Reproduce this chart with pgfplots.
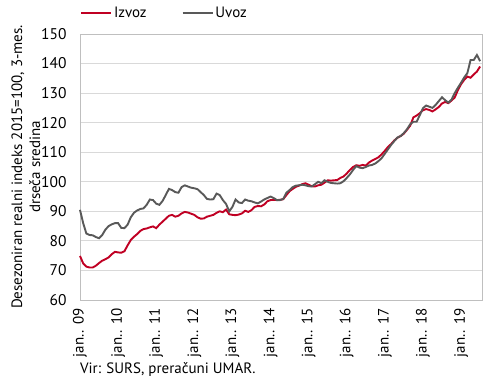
\documentclass[border=0pt]{standalone}
\usepackage{pgfplots}
\pgfplotsset{compat=1.18}
\usepackage{fontspec}
\setmainfont{PT Sans}
\definecolor{izred}{RGB}{192,0,35}
\definecolor{uvgray}{RGB}{89,89,89}
\definecolor{gridc}{RGB}{217,217,217}
\definecolor{framec}{RGB}{191,191,191}
\begin{document}
\begin{tikzpicture}
\path[use as bounding box] (-80bp,-81bp) rectangle (410bp,300bp);
\begin{axis}[
  at={(0,0)}, anchor=south west,
  scale only axis, width=402bp, height=266bp,
  xmin=0, xmax=126.6, ymin=60, ymax=150,
  ytick={60,70,...,150},
  xtick={0,12,...,120},
  xticklabels={jan.. 09,jan.. 10,jan.. 11,jan.. 12,jan.. 13,jan.. 14,jan.. 15,jan.. 16,jan.. 17,jan.. 18,jan.. 19},
  x tick label style={rotate=90, anchor=east, font=\fontsize{15bp}{17bp}\selectfont},
  y tick label style={font=\fontsize{15.5bp}{17bp}\selectfont},
  xticklabel shift=5bp,
  yticklabel shift=10bp,
  /pgf/number format/assume math mode=true,
  major tick length=0pt,
  ymajorgrids, grid style={gridc, line width=0.9bp},
  axis line style={framec, line width=0.9bp},
  clip=false,
  ylabel={Desezoniran realni indeks 2015=100, 3-mes.\\drseča sredina},
  ylabel style={align=center, font=\fontsize{15bp}{18bp}\selectfont, yshift=-6bp},
  legend columns=2,
  legend style={draw=none, fill=none, at={(0,1.08)}, anchor=west, inner sep=0pt,
    font=\fontsize{15bp}{17bp}\selectfont,
    /tikz/every even column/.append style={column sep=33bp}},
  legend image code/.code={\draw[#1] (0bp,0bp) -- (30bp,0bp);},
]
\addplot[izred, line width=1.9bp] coordinates {
(0,74.9)(1,72.4)(2,71.3)(3,71)(4,71)(5,71.6)(6,72.5)(7,73.3)(8,73.8)(9,74.4)
(10,75.5)(11,76.3)(12,76.1)(13,76)(14,76.5)(15,78.5)(16,80.3)(17,81.4)(18,82.3)(19,83.4)
(20,84)(21,84.2)(22,84.6)(23,84.9)(24,84.3)(25,85.5)(26,86.5)(27,87.5)(28,88.5)(29,88.8)
(30,88.2)(31,88.5)(32,89.3)(33,89.8)(34,89.6)(35,89.2)(36,88.8)(37,88)(38,87.5)(39,87.6)
(40,88.2)(41,88.5)(42,88.8)(43,89.5)(44,90)(45,89.7)(46,90.6)(47,89)(48,88.8)(49,88.7)
(50,88.9)(51,89.3)(52,90.2)(53,89.8)(54,90.4)(55,91.5)(56,91.8)(57,91.7)(58,92.3)(59,93.4)
(60,93.8)(61,93.9)(62,93.8)(63,93.9)(64,94.1)(65,95.5)(66,96.8)(67,97.6)(68,98.3)(69,98.7)
(70,99.2)(71,99.5)(72,99)(73,98.5)(74,98.4)(75,98.8)(76,99)(77,99.7)(78,100.5)(79,100.4)
(80,100.5)(81,100.6)(82,101.3)(83,101.8)(84,102.8)(85,104)(86,105)(87,105.6)(88,105.4)(89,105.7)
(90,105.5)(91,106.5)(92,107.2)(93,107.7)(94,108.3)(95,109.3)(96,110.5)(97,111.8)(98,112.8)(99,114)
(100,114.9)(101,115.5)(102,116.3)(103,117.6)(104,119)(105,121.8)(106,122.4)(107,123.2)(108,124.2)(109,124.6)
(110,124.3)(111,123.8)(112,124.5)(113,125.3)(114,126.5)(115,127)(116,126.6)(117,127.5)(118,128.5)(119,131)
(120,133)(121,134.5)(122,135.6)(123,135.2)(124,136.3)(125,137.3)(126,139)
};
\addlegendentry{Izvoz}
\addplot[uvgray, line width=1.9bp] coordinates {
(0,90.5)(1,86)(2,82.5)(3,82)(4,81.9)(5,81.3)(6,80.9)(7,82)(8,83.8)(9,85)
(10,85.6)(11,86)(12,86)(13,84.4)(14,84.3)(15,85.5)(16,88)(17,89.5)(18,90.3)(19,90.8)
(20,91)(21,92.2)(22,94)(23,93.8)(24,92.6)(25,92.2)(26,93.5)(27,95.5)(28,97.6)(29,97.2)
(30,96.5)(31,96.3)(32,98.2)(33,98.8)(34,98.4)(35,98)(36,97.8)(37,97.5)(38,96.5)(39,95.5)
(40,94.2)(41,94)(42,94.1)(43,96)(44,95.5)(45,93.8)(46,92.5)(47,90)(48,91.5)(49,94)
(50,93)(51,92.8)(52,94)(53,93.6)(54,93.4)(55,93)(56,92.7)(57,93.3)(58,94)(59,94.5)
(60,95)(61,94.5)(62,93.8)(63,93.8)(64,94.2)(65,96.3)(66,97.2)(67,98.2)(68,98.7)(69,98.8)
(70,99)(71,98.8)(72,98.5)(73,98.4)(74,99.2)(75,100)(76,99.5)(77,100.5)(78,100)(79,99.6)
(80,99.5)(81,99.4)(82,99.5)(83,100.2)(84,101.3)(85,102.5)(86,104)(87,105.3)(88,104.8)(89,104.6)
(90,105)(91,105.5)(92,105.7)(93,106.2)(94,107)(95,108)(96,109.5)(97,111)(98,112.5)(99,113.8)
(100,115)(101,115.5)(102,116.5)(103,117.8)(104,119.5)(105,120.3)(106,120.3)(107,122.5)(108,124.9)(109,125.8)
(110,125.4)(111,125)(112,126)(113,127.3)(114,128.6)(115,127.6)(116,126.8)(117,127.8)(118,130)(119,131.8)
(120,133.5)(121,135.3)(122,136.8)(123,141.2)(124,141.2)(125,142.9)(126,140.8)
};
\addlegendentry{Uvoz}
\node[anchor=west, font=\fontsize{15bp}{17bp}\selectfont, inner sep=0pt] at (rel axis cs:0,-0.262) {Vir: SURS, preračuni UMAR.};
\end{axis}
\end{tikzpicture}
\end{document}
